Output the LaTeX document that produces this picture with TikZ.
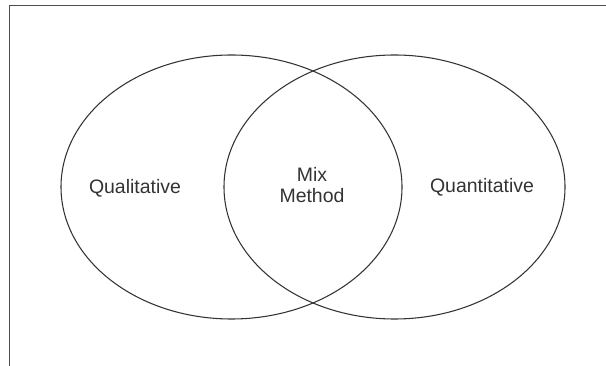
\documentclass[tikz,border=0pt]{standalone}
\usepackage{fontspec}
\setmainfont{Liberation Sans}
\usepackage{tikz}
\usetikzlibrary{shapes.geometric}

\begin{document}
\begin{tikzpicture}[
            x=0.75pt, y=-0.75pt,
            set/.style={draw=black!80, line width=0.8pt, ellipse, minimum width=255.75pt, minimum height=198pt, inner sep=0pt},
            settext/.style={font=\fontsize{14.6}{15.75}\selectfont, text=black!80, inner sep=0pt, align=center}
            ]

            \useasboundingbox (0,0) rectangle (606,366);

            % Frame
            \draw[black!70, line width=1pt] (9.5,366) -- (9.5,5.5) -- (606,5.5);

            % Sets
            \node[set] (qual) at (231.5,187) {};
            \node[set] (quan) at (394.5,187) {};

            % Labels
            \node[settext, anchor=base] (qualtxt) at (135,194) {Qualitative};
            \node[settext] (mixtxt) at (312,185.5) {Mix\\Method};
            \node[settext, anchor=base] (quantxt) at (482,193) {Quantitative};
        \end{tikzpicture}
\end{document}
